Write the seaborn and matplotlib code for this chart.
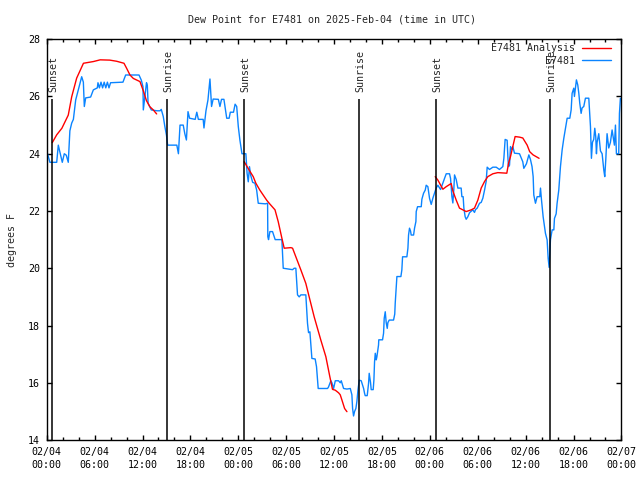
import pandas as pd
import matplotlib
matplotlib.use("Agg")
import matplotlib.pyplot as plt
import matplotlib.dates as mdates
import seaborn as sns

# observed dew point (hours after 2025-02-04 00:00 UTC, degrees F)
obs_hours = [
    0.0, 0.1, 0.4, 1.25, 1.45, 1.7, 1.95, 2.2, 2.45, 2.7, 2.9, 3.13, 3.34, 3.63, 3.84,
    4.17, 4.38, 4.59, 4.71, 4.88, 5.5, 5.84, 6.34, 6.42, 6.6, 6.8, 7.0, 7.2, 7.4, 7.6,
    7.8, 8.0, 9.55, 9.89, 11.56, 11.85, 12.06, 12.1, 12.5, 12.6, 12.7, 13.1, 13.8, 14.2,
    14.35, 14.6, 14.8, 15.0, 15.15, 16.3, 16.5, 16.7, 17.1, 17.3, 17.5, 17.7, 17.9, 18.6,
    18.8, 19.0, 19.6, 19.7, 19.95, 20.2, 20.45, 20.65, 20.85, 21.5, 21.7, 21.9, 22.2,
    22.55, 22.85, 23.0, 23.4, 23.6, 23.8, 24.0, 24.2, 24.46, 24.95, 25.1, 25.25, 25.4,
    25.55, 25.8, 26.08, 26.3, 26.5, 27.4, 27.67, 27.7, 27.79, 27.96, 28.29, 28.62, 29.46,
    29.63, 30.8, 31.0, 31.21, 31.42, 31.63, 31.84, 32.46, 32.67, 32.8, 32.97, 33.22,
    33.63, 33.8, 34.01, 35.18, 35.3, 35.6, 35.73, 35.94, 36.15, 36.56, 36.77, 36.9,
    37.19, 37.61, 38.03, 38.23, 38.32, 38.44, 38.57, 38.73, 38.86, 38.99, 39.15, 39.4,
    39.7, 39.82, 39.9, 40.15, 40.32, 40.4, 40.57, 40.65, 40.9, 40.99, 41.07, 41.16,
    41.28, 41.36, 41.57, 41.6, 42.07, 42.2, 42.28, 42.41, 42.53, 42.66, 42.74, 42.91,
    43.45, 43.6, 43.66, 43.87, 44.37, 44.49, 44.58, 45.12, 45.25, 45.33, 45.45, 45.58,
    45.66, 45.96, 46.08, 46.25, 46.29, 46.46, 46.92, 47.0, 47.21, 47.42, 47.54, 47.75,
    47.96, 48.17, 48.38, 48.58, 48.79, 49.0, 49.34, 49.63, 49.84, 50.05, 50.46, 50.59,
    50.76, 50.88, 51.0, 51.09, 51.3, 51.51, 51.92, 52.01, 52.17, 52.26, 52.42, 52.55,
    52.76, 52.97, 53.38, 53.59, 53.72, 53.93, 54.22, 54.43, 54.64, 54.85, 55.05, 55.18,
    55.47, 55.89, 56.31, 56.72, 57.14, 57.27, 57.43, 57.68, 57.77, 57.85, 57.98, 58.1,
    58.27, 58.39, 58.6, 59.23, 59.64, 59.77, 60.1, 60.4, 60.6, 60.8, 60.94, 61.02,
    61.23, 61.44, 61.77, 61.86, 61.98, 62.19, 62.48, 62.69, 62.82, 62.94, 63.11, 63.32,
    63.53, 63.61, 63.82, 63.94, 64.15, 64.36, 64.57, 64.78, 64.99, 65.2, 65.53, 65.7,
    65.82, 66.03, 66.11, 66.24, 66.36, 66.53, 66.66, 66.78, 66.95, 67.07, 67.28, 67.49,
    67.91, 68.12, 68.24, 68.37, 68.53, 68.66, 68.78, 68.87, 68.95, 69.16, 69.37, 69.58,
    69.79, 69.91, 70.04, 70.2, 70.41, 70.62, 70.83, 70.96, 71.12, 71.25, 71.37, 71.66,
    71.75, 71.87,
]
obs_dewpt = [
    24.0, 24.0, 23.7, 23.7, 24.3, 24.0, 23.7, 24.0, 23.95, 23.7, 24.8, 25.07, 25.2, 25.88, 26.1,
    26.46, 26.69, 26.5, 25.65, 25.95, 25.98, 26.23, 26.3, 26.48, 26.3, 26.5, 26.3, 26.5, 26.3, 26.5,
    26.3, 26.48, 26.5, 26.75, 26.75, 26.57, 26.34, 25.53, 26.48, 26.4, 25.76, 25.53, 25.5, 25.5,
    25.55, 25.3, 24.95, 24.65, 24.3, 24.3, 24.0, 25.0, 25.0, 24.7, 24.48, 25.47, 25.24, 25.2,
    25.45, 25.2, 25.2, 24.9, 25.5, 25.88, 26.61, 25.65, 25.91, 25.9, 25.65, 25.9, 25.9,
    25.24, 25.24, 25.45, 25.45, 25.73, 25.65, 24.95, 24.48, 24.0, 24.0, 23.32, 23.02, 23.55,
    23.25, 23.0, 22.97, 22.73, 22.27, 22.25, 22.27, 21.1, 21.0, 21.28, 21.28, 21.0, 21.0,
    20.0, 19.95, 20.0, 20.0, 19.07, 19.0, 19.07, 19.07, 18.08, 17.75, 17.78, 16.85,
    16.83, 16.56, 15.8, 15.8, 15.85, 16.07, 16.0, 15.8, 16.07, 16.07, 16.0, 16.07,
    15.8, 15.78, 15.8, 15.58, 15.1, 14.84, 15.0, 15.1, 15.35, 15.74, 16.09, 16.07,
    15.8, 15.63, 15.55, 15.55, 15.98, 16.33, 16.0, 15.76, 15.76, 16.1, 16.73, 17.03,
    16.8, 16.9, 17.32, 17.5, 17.5, 17.73, 18.25, 18.48, 18.1, 17.9, 18.1, 18.19,
    18.19, 18.4, 18.78, 19.71, 19.71, 19.94, 20.4, 20.4, 20.7, 21.16, 21.4, 21.3,
    21.16, 21.16, 21.4, 21.63, 21.98, 22.15, 22.15, 22.41, 22.62, 22.73, 22.9, 22.85,
    22.44, 22.23, 22.45, 22.62, 22.8, 22.9, 22.75, 22.97, 23.14, 23.3, 23.3, 23.14,
    22.5, 22.28, 22.75, 23.26, 23.1, 22.8, 22.8, 22.5, 22.5, 22.1, 21.8, 21.71,
    21.8, 21.94, 22.04, 21.95, 22.05, 22.1, 22.27, 22.3, 22.45, 22.73, 23.03, 23.53,
    23.45, 23.53, 23.53, 23.45, 23.55, 23.84, 24.5, 24.47, 23.9, 23.55, 23.6, 24.25,
    24.15, 24.25, 24.02, 24.0, 23.72, 23.49, 23.65, 23.96, 23.8, 23.55, 23.2, 22.56,
    22.27, 22.5, 22.5, 22.8, 22.4, 21.8, 21.22, 20.99, 20.35, 20.03, 21.0, 21.34,
    21.34, 21.74, 21.9, 22.27, 22.73, 23.55, 24.13, 24.54, 24.89, 25.24, 25.24, 25.53,
    26.11, 26.29, 26.0, 26.3, 26.58, 26.4, 26.11, 25.76, 25.41, 25.6, 25.65, 25.94,
    25.94, 24.95, 23.84, 24.4, 24.5, 24.89, 24.6, 24.0, 24.4, 24.7, 24.1, 24.0,
    23.43, 23.2, 23.8, 24.7, 24.2, 24.4, 24.83, 24.6, 24.3, 25.0, 24.0, 24.0,
    25.41, 25.94,
]

# analysis, three nightly segments
ana_hours = [
    [0.7, 1.25, 1.9, 2.7, 3.13, 3.75, 4.6, 5.85, 6.7, 7.9, 8.76, 9.68, 10.0, 10.43,
     10.85, 11.68, 12.1, 12.5, 12.93, 13.35, 13.77],
    [24.74, 25.25, 25.87, 26.2, 26.7, 27.55, 27.87, 28.6, 29.0, 29.46, 29.75, 30.59,
     30.8, 31.21, 31.84, 32.46, 32.88, 33.51, 34.34, 34.97, 35.47, 35.8, 36.15, 36.56,
     36.77, 36.98, 37.32, 37.61],
    [48.67, 49.0, 49.63, 50.05, 50.67, 50.88, 51.3, 51.71, 52.13, 52.55, 53.18, 53.59,
     54.01, 54.43, 54.85, 55.26, 55.89, 56.51, 57.64, 57.85, 58.1, 58.39, 58.68, 59.23,
     59.64, 60.19, 60.51, 60.93, 61.68],
]
ana_dewpt = [
    [24.39, 24.66, 24.89, 25.35, 25.99, 26.64, 27.16, 27.22, 27.28, 27.27, 27.23, 27.16,
     26.99, 26.75, 26.63, 26.52, 26.2, 25.85, 25.64, 25.53, 25.39],
    [23.72, 23.48, 23.2, 22.97, 22.73, 22.38, 22.27, 22.04, 21.63, 21.05, 20.7, 20.72,
     20.7, 20.4, 19.94, 19.47, 19.0, 18.3, 17.49, 16.91, 16.21, 15.77, 15.74, 15.65,
     15.58, 15.4, 15.1, 14.99],
    [23.2, 23.08, 22.76, 22.85, 22.96, 22.7, 22.38, 22.1, 22.04, 21.98, 22.04, 22.1,
     22.38, 22.8, 23.03, 23.2, 23.3, 23.34, 23.32, 23.66, 23.9, 24.25, 24.6, 24.58,
     24.55, 24.3, 24.07, 23.96, 23.84],
]

sun_hours = [0.7, 15.1, 24.74, 39.14, 48.78, 63.06]
sun_labels = ["Sunset", "Sunrise", "Sunset", "Sunrise", "Sunset", "Sunrise"]

start = pd.Timestamp("2025-02-04 00:00")


def to_time(hours):
    return start + pd.to_timedelta(hours, unit="h")


sns.set_style("ticks")
plt.rcParams["font.family"] = ["DejaVu Sans Mono"]
plt.rcParams["font.size"] = 7.2

fig = plt.figure(figsize=(6.4, 4.8), dpi=100)
ax = fig.add_axes([0.073, 0.0833, 0.898, 0.835])

obs = pd.DataFrame({"time": to_time(obs_hours), "dewpt": obs_dewpt})
sns.lineplot(data=obs, x="time", y="dewpt", color="#0a84ff", lw=1.0,
             estimator=None, sort=False, label="E7481", legend=False, ax=ax)

for i, (hh, vv) in enumerate(zip(ana_hours, ana_dewpt)):
    seg = pd.DataFrame({"time": to_time(hh), "dewpt": vv})
    sns.lineplot(data=seg, x="time", y="dewpt", color="#ff0000", lw=1.0,
                 estimator=None, sort=False, legend=False,
                 label="E7481 Analysis" if i == 0 else "_nolegend_", ax=ax)

# sunrise / sunset markers
for h, name in zip(sun_hours, sun_labels):
    t = to_time(h)
    ax.vlines(t, 14, 25.9, color="black", lw=1.1)
    ax.text(to_time(h + 0.1), 26.15, name, rotation=90, ha="center", va="bottom",
            fontsize=7.2)

ax.set_xlim(start, to_time(72))
ax.set_ylim(14, 28)
ax.set_yticks(range(14, 29, 2))
ax.xaxis.set_major_locator(mdates.HourLocator(byhour=[0, 6, 12, 18]))
ax.xaxis.set_minor_locator(mdates.HourLocator(byhour=range(0, 24, 2)))
ax.xaxis.set_major_formatter(mdates.DateFormatter("%m/%d\n%H:%M"))
for lbl in ax.get_xticklabels():
    lbl.set_linespacing(1.35)

ax.tick_params(which="both", direction="in", top=True, right=True, colors="black",
               labelsize=7.2)
ax.tick_params(which="major", length=3.6, width=1.0, pad=5)
ax.tick_params(which="minor", length=2.5, width=1.0)
for sp in ax.spines.values():
    sp.set_linewidth(1.0)
    sp.set_color("black")

ax.set_xlabel("")
ax.set_ylabel("degrees F", fontsize=7.2, labelpad=8)

handles, labels = ax.get_legend_handles_labels()
order = [labels.index("E7481 Analysis"), labels.index("E7481")]
ax.legend([handles[i] for i in order], [labels[i] for i in order],
          loc="upper right", bbox_to_anchor=(611 / 640, 1 - 43 / 480),
          bbox_transform=fig.transFigure, frameon=False, markerfirst=False,
          handlelength=2.9, handletextpad=0.7, labelspacing=0.25,
          borderaxespad=0, borderpad=0, fontsize=7.2)

fig.text(0.519, 1 - 20 / 480, "Dew Point for E7481 on 2025-Feb-04 (time in UTC)",
         ha="center", va="center", fontsize=7.2)

fig.savefig("out.png", dpi=100)
